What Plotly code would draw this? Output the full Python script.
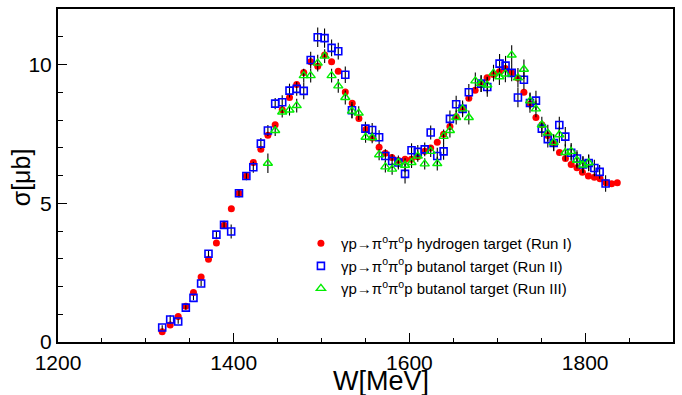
import plotly.graph_objects as go

# ---- data (W in MeV, sigma in microbarn) ----
W_run1 = [1318.6, 1327.7, 1336.8, 1345.5, 1354.2, 1362.9, 1371.3, 1380.3, 1389.0, 1397.3,
          1406.0, 1414.4, 1422.3, 1430.9, 1438.9, 1447.2, 1455.2, 1463.5, 1471.7, 1479.7,
          1487.6, 1495.6, 1503.5, 1511.4, 1519.0, 1527.0, 1534.9, 1542.5, 1550.5, 1557.9,
          1565.5, 1572.6, 1580.0, 1587.4, 1595.0, 1602.2, 1609.4, 1617.4, 1624.2, 1631.7,
          1638.9, 1646.1, 1653.2, 1660.5, 1667.6, 1674.8, 1681.6, 1688.4, 1695.6, 1702.4,
          1709.2, 1716.4, 1723.5, 1730.3, 1737.4, 1744.0, 1750.8, 1757.6, 1764.0, 1770.8,
          1777.6, 1784.1, 1790.7, 1796.9, 1803.7, 1810.5, 1817.0, 1823.8, 1830.1, 1836.6]
sig_run1 = [0.37, 0.61, 0.92, 1.29, 1.78, 2.34, 2.98, 3.57, 4.21, 4.80,
            5.36, 5.98, 6.47, 6.95, 7.45, 7.83, 8.37, 8.81, 9.28, 9.71,
            10.10, 9.94, 10.34, 10.10, 9.76, 9.01, 8.60, 8.05, 7.66, 7.35,
            7.02, 6.80, 6.65, 6.54, 6.59, 6.59, 6.68, 6.87, 6.99, 7.20,
            7.49, 7.77, 8.12, 8.42, 8.78, 9.07, 9.32, 9.52, 9.64, 9.74,
            9.86, 9.70, 9.51, 9.00, 8.58, 8.09, 7.83, 7.44, 7.14, 6.83,
            6.61, 6.40, 6.28, 6.12, 5.98, 5.94, 5.88, 5.74, 5.70, 5.74]
err_run1 = [0.04, 0.04, 0.05, 0.05, 0.05, 0.06, 0.06, 0.06, 0.07, 0.07,
            0.07, 0.08, 0.08, 0.08, 0.08, 0.09, 0.09, 0.09, 0.10, 0.10,
            0.14, 0.10, 0.10, 0.10, 0.10, 0.10, 0.09, 0.09, 0.09, 0.08,
            0.08, 0.08, 0.08, 0.08, 0.08, 0.08, 0.08, 0.08, 0.08, 0.08,
            0.08, 0.09, 0.09, 0.09, 0.09, 0.10, 0.10, 0.10, 0.10, 0.10,
            0.10, 0.10, 0.10, 0.10, 0.10, 0.10, 0.09, 0.09, 0.09, 0.09,
            0.09, 0.09, 0.09, 0.08, 0.08, 0.08, 0.08, 0.08, 0.08, 0.08]

W_run2 = [1318.6, 1327.7, 1336.8, 1345.5, 1354.2, 1362.9, 1371.3, 1380.3, 1389.0, 1397.1,
          1406.0, 1414.4, 1422.3, 1430.9, 1438.9, 1447.2, 1455.2, 1463.5, 1471.7, 1479.7,
          1487.6, 1495.6, 1503.4, 1511.4, 1519.0, 1527.0, 1534.6, 1549.9, 1557.6, 1565.5,
          1572.6, 1580.3, 1587.4, 1595.0, 1602.4, 1609.5, 1617.4, 1624.2, 1631.7, 1638.9,
          1646.1, 1653.2, 1660.5, 1667.6, 1681.6, 1688.6, 1702.6, 1709.4, 1716.4, 1723.5,
          1730.3, 1737.2, 1744.0, 1750.7, 1757.5, 1764.2, 1770.6, 1777.4, 1784.1, 1790.7,
          1797.5, 1804.0, 1810.5, 1816.5, 1823.3]
sig_run2 = [0.52, 0.81, 0.74, 1.24, 1.59, 2.11, 3.18, 3.87, 4.22, 3.98,
            5.36, 5.98, 6.30, 7.15, 7.62, 8.59, 8.64, 9.06, 9.12, 9.05,
            10.16, 10.98, 10.95, 10.60, 10.48, 9.63, 8.35, 7.69, 7.64, 7.38,
            6.70, 6.52, 6.47, 6.06, 6.91, 6.85, 6.94, 7.55, 6.70, 6.87,
            8.04, 8.57, 8.40, 9.00, 9.31, 9.19, 10.03, 9.96, 9.70, 8.81,
            9.45, 8.61, 8.70, 7.69, 7.31, 7.17, 7.82, 7.40, 6.82, 6.61,
            6.40, 6.45, 6.27, 6.13, 5.71]
err_run2 = [0.08, 0.15, 0.08, 0.08, 0.08, 0.10, 0.12, 0.12, 0.15, 0.25,
            0.15, 0.15, 0.20, 0.20, 0.20, 0.20, 0.25, 0.25, 0.25, 0.30,
            0.30, 0.35, 0.35, 0.30, 0.30, 0.30, 0.30, 0.25, 0.25, 0.25,
            0.25, 0.25, 0.25, 0.35, 0.25, 0.25, 0.25, 0.25, 0.30, 0.30,
            0.30, 0.30, 0.30, 0.30, 0.30, 0.35, 0.35, 0.35, 0.30, 0.35,
            0.35, 0.35, 0.35, 0.30, 0.30, 0.30, 0.30, 0.35, 0.30, 0.30,
            0.30, 0.30, 0.30, 0.25, 0.30]

W_run3 = [1438.9, 1447.2, 1455.2, 1463.5, 1471.7, 1479.7, 1487.6, 1495.6, 1503.5, 1511.4,
          1519.0, 1527.0, 1534.6, 1542.3, 1550.1, 1557.6, 1565.5, 1572.6, 1580.3, 1587.4,
          1595.0, 1602.4, 1609.5, 1617.4, 1624.2, 1631.7, 1638.9, 1646.1, 1653.2, 1660.5,
          1667.6, 1675.0, 1681.6, 1688.6, 1695.7, 1702.4, 1709.2, 1716.4, 1723.5, 1730.3,
          1737.3, 1744.0, 1750.7, 1757.5, 1764.2, 1770.6, 1777.4, 1784.1, 1790.7, 1797.5,
          1804.0]
sig_run3 = [6.44, 7.62, 8.29, 8.36, 8.52, 9.60, 9.60, 10.05, 10.30, 9.60,
            9.23, 8.81, 8.32, 8.25, 7.38, 7.36, 6.75, 6.31, 6.23, 6.47,
            6.37, 6.47, 6.70, 6.42, 6.87, 6.43, 7.41, 7.62, 8.09, 8.40,
            8.09, 9.41, 9.31, 9.26, 9.69, 9.56, 9.66, 10.34, 9.52, 9.83,
            8.69, 8.40, 7.82, 7.53, 7.19, 7.47, 6.83, 6.87, 6.55, 6.38,
            6.46]
err_run3 = [0.35, 0.20, 0.20, 0.20, 0.25, 0.25, 0.25, 0.30, 0.25, 0.25,
            0.25, 0.25, 0.25, 0.25, 0.20, 0.20, 0.20, 0.20, 0.20, 0.20,
            0.25, 0.20, 0.20, 0.20, 0.20, 0.25, 0.25, 0.25, 0.25, 0.25,
            0.25, 0.30, 0.30, 0.30, 0.30, 0.30, 0.30, 0.35, 0.35, 0.35,
            0.30, 0.30, 0.30, 0.30, 0.30, 0.30, 0.30, 0.30, 0.30, 0.30,
            0.30]

labels = ["γp→π<sup>o</sup>π<sup>o</sup>p hydrogen target (Run I)",
          "γp→π<sup>o</sup>π<sup>o</sup>p butanol target (Run II)",
          "γp→π<sup>o</sup>π<sup>o</sup>p butanol target (Run III)"]

FONT = "Liberation Sans, Arial, sans-serif"
fig = go.Figure()

def err(a):
    return dict(type="data", array=a, visible=True, color="black", thickness=1.1, width=0)

fig.add_trace(go.Scatter(x=W_run1, y=sig_run1, mode="markers", name=labels[0],
                         error_y=err(err_run1), legendgroup="a",
                         marker=dict(symbol="circle", size=7, color="#ff0000",
                                     line=dict(width=0))))
fig.add_trace(go.Scatter(x=W_run2, y=sig_run2, mode="markers", name=labels[1],
                         error_y=err(err_run2), legendgroup="b",
                         marker=dict(symbol="square-open", size=7, color="#0000ff",
                                     line=dict(width=1.6, color="#0000ff"))))
fig.add_trace(go.Scatter(x=W_run3, y=sig_run3, mode="markers", name=labels[2],
                         error_y=err(err_run3), legendgroup="c",
                         marker=dict(symbol="triangle-up-open", size=8, color="#00ee00",
                                     line=dict(width=1.4, color="#00ee00"))))

fig.update_layout(
    width=682, height=395,
    margin=dict(l=58, r=8, t=7, b=53),
    paper_bgcolor="white", plot_bgcolor="white",
    font=dict(family=FONT, color="black"),
    showlegend=True,
    legend=dict(x=0.395, y=0.345, xanchor="left", yanchor="top",
                bgcolor="rgba(0,0,0,0)", font=dict(size=15, family=FONT),
                traceorder="grouped", tracegroupgap=0, itemwidth=30),
    xaxis=dict(range=[1200, 1900], tick0=1200, dtick=200, ticks="inside", ticklen=9,
               tickwidth=1.2, tickcolor="black", showline=True, linewidth=2,
               linecolor="black", mirror=True, showgrid=False, zeroline=False,
               tickfont=dict(size=21, family=FONT), ticklabelstandoff=1,
               minor=dict(dtick=50, ticks="inside", ticklen=4.5, tickwidth=1.2,
                          tickcolor="black", showgrid=False)),
    yaxis=dict(range=[0, 12], tick0=0, dtick=5, ticks="inside", ticklen=9,
               tickwidth=1.2, tickcolor="black", showline=True, linewidth=2,
               linecolor="black", mirror=True, showgrid=False, zeroline=False,
               tickfont=dict(size=21, family=FONT),
               minor=dict(dtick=1, ticks="inside", ticklen=4.5, tickwidth=1.2,
                          tickcolor="black", showgrid=False)),
    annotations=[
        dict(text="W[MeV]", xref="paper", yref="paper", x=0.525, y=-0.116,
             xanchor="center", yanchor="middle", showarrow=False,
             font=dict(size=27, family=FONT)),
        dict(text="σ[μb]", xref="paper", yref="paper", x=-0.06, y=0.495,
             xanchor="center", yanchor="middle", showarrow=False, textangle=-90,
             font=dict(size=25, family=FONT)),
    ],
)

fig.write_html("out.html")
